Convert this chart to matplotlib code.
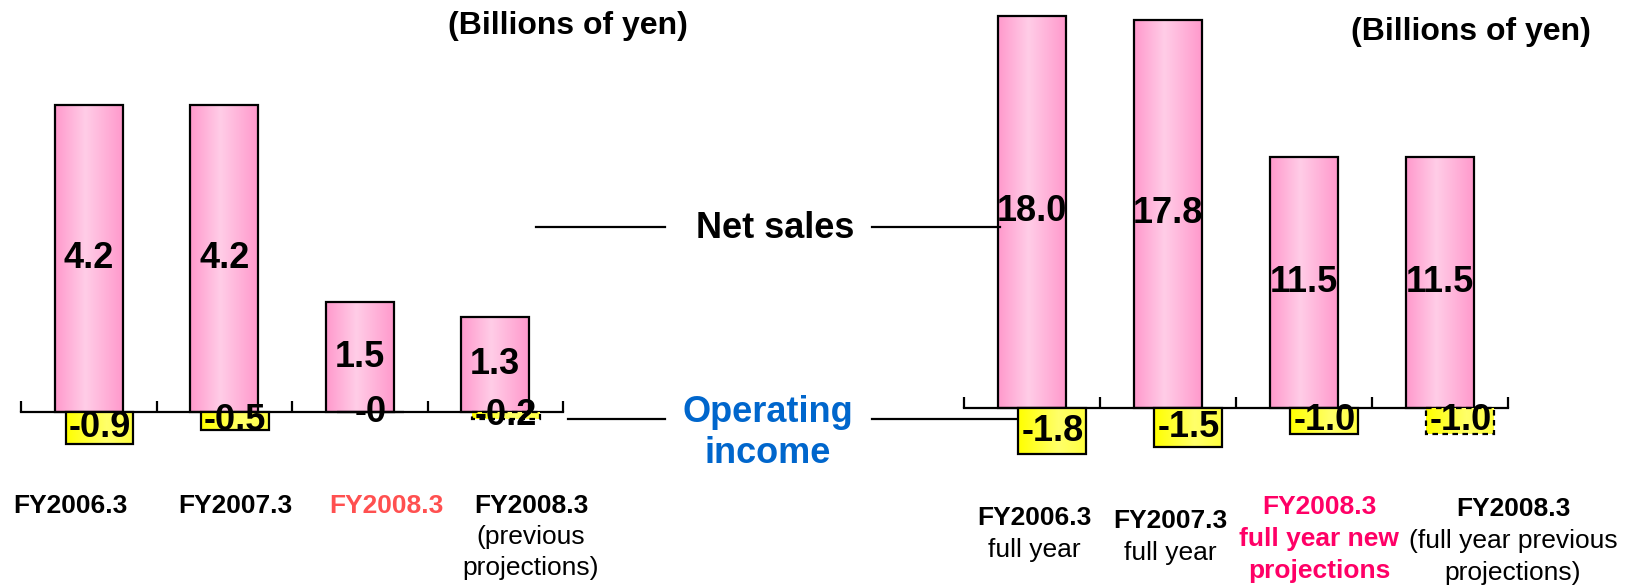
import numpy as np
import matplotlib
matplotlib.use('Agg')
import matplotlib.pyplot as plt
from matplotlib.colors import LinearSegmentedColormap
from matplotlib.lines import Line2D
from matplotlib import font_manager

plt.rcParams['font.family'] = ['Liberation Sans', 'DejaVu Sans']

# data
left_cats = [['FY2006.3'], ['FY2007.3'], ['FY2008.3'],
             ['FY2008.3', '(previous', 'projections)']]
left_sales = [4.2, 4.2, 1.5, 1.3]
left_income = [-0.9, -0.5, 0.0, -0.2]
left_income_txt = ['-0.9', '-0.5', '-0', '-0.2']

right_cats = [['FY2006.3', 'full year'], ['FY2007.3', 'full year'],
              ['FY2008.3', 'full year new', 'projections'],
              ['FY2008.3', '(full year previous', 'projections)']]
right_sales = [18.0, 17.8, 11.5, 11.5]
right_income = [-1.8, -1.5, -1.0, -1.0]
right_income_txt = ['-1.8', '-1.5', '-1.0', '-1.0']

W, H = 1633, 586
fig = plt.figure(figsize=(W / 100, H / 100), dpi=100)

names = {f.name for f in font_manager.fontManager.ttflist}
narrow = 'Liberation Sans Narrow' in names

pink = LinearSegmentedColormap.from_list('pink', [(0, '#FF99CC'), (0.45, '#FFCDE7'), (1, '#FF99CC')])
yellow = LinearSegmentedColormap.from_list('yel', [(0, '#FFFF00'), (0.6, '#FFFF6A'), (1, '#FFFF40')])
grad = np.linspace(0, 1, 256).reshape(1, -1)


def px(x, y):
    return x / W, 1 - y / H


def grad_bar(ax, x, h, w, cmap, ls='-'):
    r = ax.bar(x, h, w, facecolor='none', edgecolor='black', linewidth=1.6,
               linestyle=ls, zorder=3)[0]
    if h != 0:
        lo, hi = sorted([0, h])
        im = ax.imshow(grad, cmap=cmap, extent=[x - w / 2, x + w / 2, lo, hi],
                       aspect='auto', zorder=2, interpolation='bilinear')
        im.set_clip_path(r)


def panel(x0, x1, zero_y, s_px, i_px, sales, income, inc_txt, off, sales_font):
    ax = fig.add_axes([x0 / W, 0, (x1 - x0) / W, 1])
    ax.patch.set_visible(False)
    ax2 = ax.twinx()
    xs = np.arange(len(sales))
    for i, v in enumerate(sales):
        grad_bar(ax, xs[i], v, 0.5, pink)
        ax.text(xs[i], v / 2, f'{v:.1f}', ha='center', va='center', zorder=5, **sales_font)
    for i, v in enumerate(income):
        ls = (0, (2.5, 2)) if i == 3 else '-'
        grad_bar(ax2, xs[i] + off, v, 0.5, yellow, ls)
        ax2.text(xs[i] + off, v / 2, inc_txt[i], ha='center', va='center',
                 fontsize=26, fontweight='bold', zorder=6)
    below = H - zero_y
    ax.set_xlim(-0.5, 3.5)
    ax.set_ylim(-below / s_px, zero_y / s_px)
    ax2.set_ylim(-below / i_px, zero_y / i_px)
    for s in ['top', 'left', 'right']:
        ax.spines[s].set_visible(False)
    ax.spines['bottom'].set_position(('data', 0))
    ax.spines['bottom'].set_linewidth(1.6)
    ax.set_yticks([])
    ax.set_xticks(np.arange(-0.5, 4, 1))
    ax.tick_params(axis='x', direction='in', length=8, width=1.6, labelbottom=False)
    ax2.axis('off')
    return ax, ax2


panel(21, 563, 412, 73.2, 35.5, left_sales, left_income, left_income_txt, 0.08,
      dict(fontsize=26, fontweight='bold'))
if narrow:
    rf = dict(fontsize=31, fontweight='bold', family='Liberation Sans Narrow')
else:
    rf = dict(fontsize=26, fontweight='bold')
panel(964, 1508, 408, 21.8, 25.8, right_sales, right_income, right_income_txt, 0.15, rf)


def cat_label(lines, x, y, color, bold_all=False, gap=31):
    for k, t in enumerate(lines):
        wgt = 'bold' if (k == 0 or bold_all) else 'normal'
        fig.text(*px(x, y + k * gap), t, ha='center', va='center', fontsize=19,
                 fontweight=wgt, color=color)


left_pos = [(70, 506), (235, 506), (386, 506), (531, 506)]
left_col = ['black', 'black', '#FF5050', 'black']
for lines, (x, y), c in zip(left_cats, left_pos, left_col):
    cat_label(lines, x, y, c)

right_pos = [(1034, 518), (1170, 521), (1319, 507), (1513, 509)]
right_col = ['black', 'black', '#FF0066', 'black']
for i, (lines, (x, y), c) in enumerate(zip(right_cats, right_pos, right_col)):
    cat_label(lines, x, y, c, bold_all=(i == 2), gap=32)

fig.text(*px(568, 26), '(Billions of yen)', ha='center', va='center', fontsize=23, fontweight='bold')
fig.text(*px(1471, 32), '(Billions of yen)', ha='center', va='center', fontsize=23, fontweight='bold')

fig.text(*px(775, 229), 'Net sales', ha='center', va='center', fontsize=26, fontweight='bold')
fig.text(*px(768, 433), 'Operating\nincome', ha='center', va='center', fontsize=26,
         fontweight='bold', color='#0066CC', linespacing=1.25)

for xa, xb, y in [(536, 665, 227), (872, 1000, 227), (568, 665, 419), (872, 1017, 419)]:
    (xa_, ya_), (xb_, yb_) = px(xa, y), px(xb, y)
    fig.add_artist(Line2D([xa_, xb_], [ya_, yb_], color='black', linewidth=1.6))

fig.savefig('out.png', dpi=100)
